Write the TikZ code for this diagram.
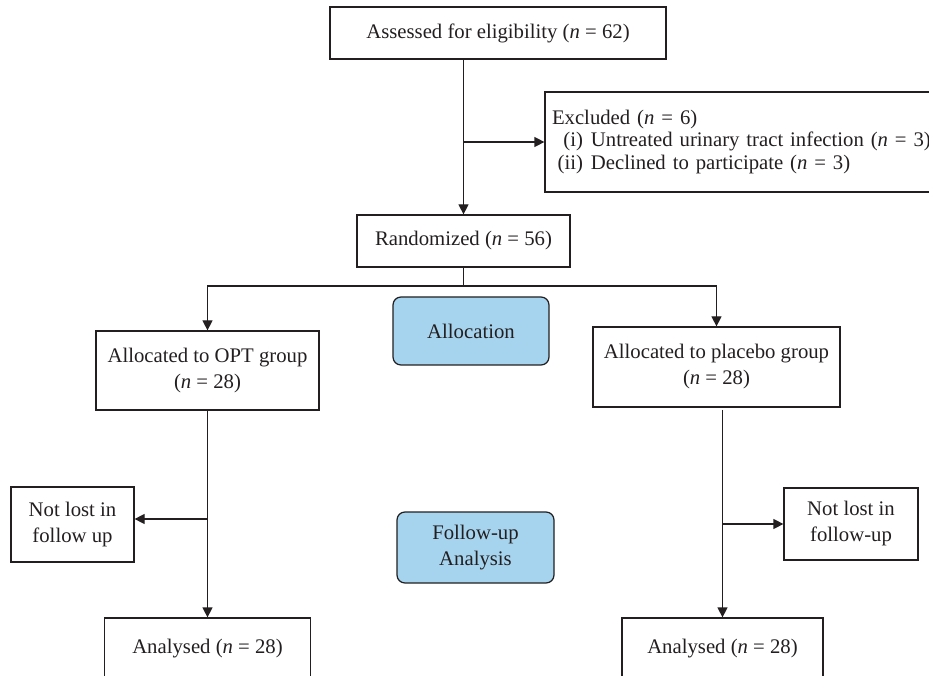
\documentclass[tikz,border=0pt]{standalone}
\usepackage{fontspec}
\setmainfont{Liberation Serif}
\usetikzlibrary{arrows.meta}
\definecolor{ink}{HTML}{231F20}
\definecolor{stage}{HTML}{A6D4EE}
\tikzset{
  box/.style={draw=ink, line width=0.7pt, text=ink, align=center, inner sep=0pt,
    font=\fontsize{11.8}{14.8}\selectfont},
  stagebox/.style={box, fill=stage, rounded corners=0.16cm},
  cutbox/.style={box, minimum height=1.44cm, text height=0.28cm, text depth=0.32cm},
  arr/.style={-{Triangle[length=2mm, width=2mm]}, line width=0.7pt, draw=ink}
}
\newcommand{\exitem}[1]{\makebox[0.62cm][r]{#1}\hspace{0.16cm}}

\begin{document}
\begin{tikzpicture}
  \useasboundingbox (0, 0) rectangle (18.58, 13.5);

  % Enrolment
  \node[box, minimum width=6.72cm, minimum height=1.04cm] (assess) at (9.96, 12.84)
    {Assessed for eligibility (\textit{n} = 62)};
  \node[box, minimum width=7.9cm, minimum height=2.0cm, align=left, text width=7.62cm,
    inner xsep=0.14cm, font=\fontsize{11.8}{12.8}\selectfont] (excl) at (14.85, 10.66)
    {Excluded (\textit{n} = 6)\\
     \exitem{(i)}Untreated urinary tract infection (\textit{n} = 3)\\
     \exitem{(ii)}Declined to participate (\textit{n} = 3)};
  \node[box, minimum width=4.26cm, minimum height=1.04cm] (rand) at (9.27, 8.68)
    {Randomized (\textit{n} = 56)};

  % Allocation
  \node[box, minimum width=4.46cm, minimum height=1.58cm] (opt) at (4.15, 6.09)
    {Allocated to OPT group\\(\textit{n} = 28)};
  \node[stagebox, minimum width=3.12cm, minimum height=1.36cm] (alloc) at (9.42, 6.88)
    {Allocation};
  \node[box, minimum width=4.94cm, minimum height=1.6cm] (plac) at (14.33, 6.16)
    {Allocated to placebo group\\(\textit{n} = 28)};

  % Follow-up
  \node[box, minimum width=2.46cm, minimum height=1.5cm] (lostL) at (1.45, 3.01)
    {Not lost in\\follow up};
  \node[stagebox, minimum width=3.14cm, minimum height=1.42cm] (follow) at (9.51, 2.55)
    {Follow-up\\Analysis};
  \node[box, minimum width=2.68cm, minimum height=1.44cm] (lostR) at (17.02, 3.02)
    {Not lost in\\follow-up};

  % Analysis
  \node[cutbox, minimum width=4.12cm] (anaL) at (4.15, 0.42) {Analysed (\textit{n} = 28)};
  \node[cutbox, minimum width=4.02cm] (anaR) at (14.45, 0.42) {Analysed (\textit{n} = 28)};

  % Connectors
  \draw[arr] (assess.south -| rand.north) -- (rand.north);
  \draw[arr] (rand.north |- excl.west) -- (excl.west);

  \coordinate (split) at (9.27, 7.78);
  \draw[line width=0.7pt, draw=ink] (rand.south) -- (split);
  \draw[arr] (split) -| (opt.north);
  \draw[arr] (split) -| (plac.north);

  \draw[arr] (opt.south) -- (anaL.north);
  \coordinate (jl) at (4.15, 3.12);
  \draw[arr] (jl) -- (jl -| lostL.east);

  \coordinate (pv) at (14.45, 5.30);
  \draw[arr] (pv) -- (anaR.north);
  \draw[arr] (pv |- lostR.west) -- (lostR.west);
\end{tikzpicture}
\end{document}
